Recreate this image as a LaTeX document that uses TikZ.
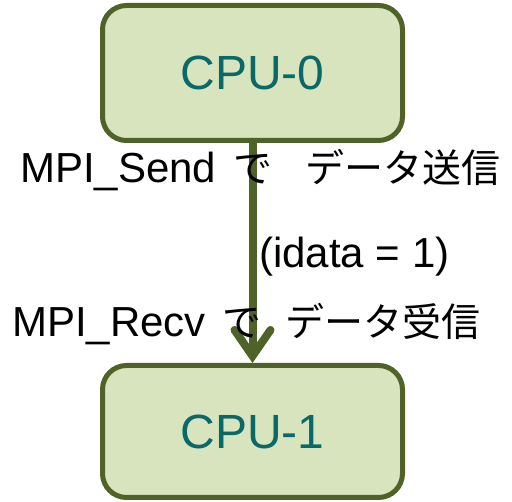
\documentclass[tikz,border=0pt]{standalone}
\usepackage{fontspec}
\setmainfont{Liberation Sans}
\newfontfamily\jp{Noto Sans CJK JP}
\usetikzlibrary{arrows.meta}
\definecolor{boxfill}{HTML}{D7E4BD}
\definecolor{boxline}{HTML}{4F6228}
\definecolor{cputext}{HTML}{0A6868}
\newcommand{\jptext}[1]{{\jp\fontsize{39}{47}\selectfont #1}}
\tikzset{
  cpubox/.style={draw=boxline, fill=boxfill, line width=5pt, rounded corners=24pt,
    minimum width=300pt, minimum height=135pt, inner sep=0pt,
    text=cputext, font=\fontsize{48}{56}\selectfont},
  lbl/.style={inner sep=0pt, anchor=base west, font=\fontsize{42}{50}\selectfont},
  msgarrow/.style={draw=boxline, line width=8pt,
    -{Straight Barb[length=26pt,width=36pt,line cap=round]}}
}
\begin{document}
\begin{tikzpicture}[x=1pt,y=-1pt]
\useasboundingbox (0,0) rectangle (512,502);
\node[cpubox] (cpu0) at (252.5,73) {CPU-0};
\node[cpubox, minimum height=132pt] (cpu1) at (252.5,431.5) {CPU-1};
\draw[msgarrow] (cpu0.south) -- (cpu1.north);
\node[lbl] (send) at (20,183) {MPI\_Send\hspace{6pt} \jptext{で\hspace{33pt}データ送信}};
\node[lbl] (idata) at (259,268) {(idata = 1)};
\node[lbl] (recv) at (12,337) {MPI\_Recv\hspace{5pt} \jptext{で\hspace{24pt}データ受信}};
\end{tikzpicture}
\end{document}
